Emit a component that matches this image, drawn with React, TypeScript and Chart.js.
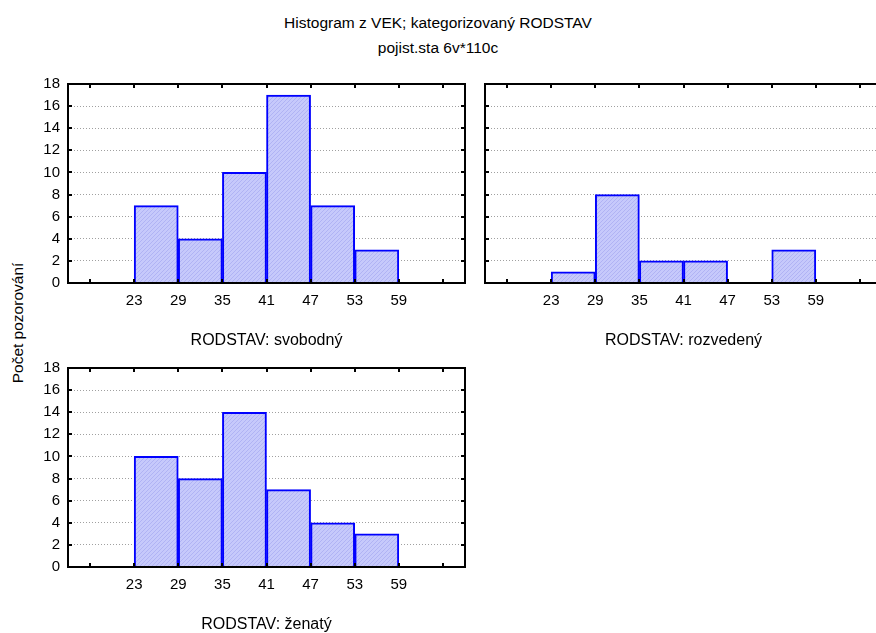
import React, { useEffect, useRef } from 'react';
import { Chart, registerables } from 'chart.js';

Chart.register(...registerables);

// ---- data ----
const binStarts = [17, 23, 29, 35, 41, 47, 53, 59];
const binWidth = 6;
const tickValues = [17, 23, 29, 35, 41, 47, 53, 59, 65];
const labeledTicks = [23, 29, 35, 41, 47, 53, 59];
const countsSvobodny = [0, 7, 4, 10, 17, 7, 3, 0];
const countsRozvedeny = [0, 1, 8, 2, 2, 0, 3, 0];
const countsZenaty = [0, 10, 8, 14, 7, 4, 3, 0];
const panelLabels = ['RODSTAV: svobodný', 'RODSTAV: rozvedený', 'RODSTAV: ženatý'];
const titleLines = ['Histogram z VEK; kategorizovaný RODSTAV', 'pojist.sta 6v*110c'];
const yAxisTitle = 'Počet pozorování';
const xMin = 14;
const xMax = 68;
const yMin = 0;
const yMax = 18;
const yStep = 2;

const FONT = '"Liberation Sans", Arial, Helvetica, sans-serif';
const TICK_FS = 15;
const LABEL_FS = 16;

function makeHatch(): CanvasPattern | string {
  const c = document.createElement('canvas');
  c.width = 4;
  c.height = 4;
  const g = c.getContext('2d');
  if (!g) return '#c4c6fb';
  g.fillStyle = '#c6c9fb';
  g.fillRect(0, 0, 4, 4);
  g.fillStyle = '#b0b3f4';
  for (let i = 0; i < 4; i++) g.fillRect(i, 3 - i, 1, 1);
  return g.createPattern(c, 'repeat') || '#c4c6fb';
}

const framePlugin = {
  id: 'frame',
  afterDraw(chart: any) {
    const { ctx, chartArea } = chart;
    const { left, right, top, bottom } = chartArea;
    const xs = chart.scales.x;
    const ys = chart.scales.y;
    ctx.save();
    ctx.strokeStyle = '#000';
    ctx.lineWidth = 2;
    ctx.beginPath();
    tickValues.forEach((v) => {
      const px = Math.round(xs.getPixelForValue(v));
      ctx.moveTo(px, top);
      ctx.lineTo(px, top + 4);
      ctx.moveTo(px, bottom);
      ctx.lineTo(px, bottom - 4);
    });
    for (let v = yMin + yStep; v < yMax; v += yStep) {
      const py = Math.round(ys.getPixelForValue(v));
      ctx.moveTo(left, py);
      ctx.lineTo(left + 4, py);
      ctx.moveTo(right, py);
      ctx.lineTo(right - 4, py);
    }
    ctx.stroke();
    ctx.strokeRect(left, top, right - left, bottom - top);
    ctx.restore();
  },
};

type PanelProps = {
  left: number;
  top: number;
  counts: number[];
  label: string;
  showY: boolean;
};

const CW = 480;
const CH = 288;

function Panel({ left, top, counts, label, showY }: PanelProps) {
  const ref = useRef<HTMLCanvasElement>(null);
  useEffect(() => {
    if (!ref.current) return;
    const chart = new Chart(ref.current, {
      type: 'bar',
      data: {
        datasets: [
          {
            data: binStarts.map((s, i) => ({ x: s + binWidth / 2, y: counts[i] })),
            backgroundColor: makeHatch() as any,
            borderColor: '#0000ff',
            borderWidth: 2,
            borderSkipped: 'start',
            barPercentage: 1,
            categoryPercentage: 1,
          } as any,
        ],
      },
      options: {
        animation: false,
        responsive: false,
        maintainAspectRatio: false,
        layout: { padding: { top: 22, right: 15, left: 0, bottom: 0 } },
        plugins: {
          legend: { display: false },
          tooltip: { enabled: false },
          title: { display: false },
        },
        scales: {
          x: {
            type: 'linear',
            min: xMin,
            max: xMax,
            offset: false,
            grid: { display: false, drawTicks: false },
            border: { display: false },
            afterBuildTicks: (s: any) => {
              s.ticks = tickValues.map((v) => ({ value: v }));
            },
            afterFit: (s: any) => {
              s.height = 67;
            },
            ticks: {
              autoSkip: false,
              maxRotation: 0,
              padding: 9,
              color: '#000',
              font: { family: FONT, size: TICK_FS },
              callback: (v: any) => (labeledTicks.includes(Number(v)) ? String(v) : ''),
            },
            title: {
              display: true,
              text: label,
              color: '#000',
              font: { family: FONT, size: LABEL_FS },
              padding: { top: 0, bottom: 0 },
            },
          },
          y: {
            min: yMin,
            max: yMax,
            grid: { color: '#a0a0a0', lineWidth: 1, drawTicks: false },
            border: { display: false, dash: [1, 2] },
            afterFit: (s: any) => {
              s.width = 68;
            },
            ticks: {
              display: showY,
              stepSize: yStep,
              padding: 8,
              color: '#000',
              font: { family: FONT, size: TICK_FS },
            },
          },
        },
      } as any,
      plugins: [framePlugin],
    });
    return () => chart.destroy();
  }, [counts, label, showY]);
  return (
    <canvas
      ref={ref}
      width={CW}
      height={CH}
      style={{ position: 'absolute', left, top, width: CW, height: CH }}
    />
  );
}

export default function App() {
  return (
    <div
      style={{
        position: 'fixed',
        left: 0,
        top: 0,
        width: 876,
        height: 633,
        overflow: 'hidden',
        background: '#fff',
        fontFamily: FONT,
        color: '#000',
      }}
    >
      {titleLines.map((t, i) => (
        <div
          key={i}
          style={{
            position: 'absolute',
            left: 0,
            top: 13 + i * 25,
            width: 876,
            height: 20,
            lineHeight: '20px',
            fontSize: 15.5,
            textAlign: 'center',
            whiteSpace: 'nowrap',
          }}
        >
          {t}
        </div>
      ))}
      <div
        style={{
          position: 'absolute',
          left: 18 - 100,
          top: 323 - 10,
          width: 200,
          height: 20,
          lineHeight: '20px',
          fontSize: 15.5,
          textAlign: 'center',
          transform: 'rotate(-90deg)',
          whiteSpace: 'nowrap',
        }}
      >
        {yAxisTitle}
      </div>
      <Panel left={0} top={62} counts={countsSvobodny} label={panelLabels[0]} showY={true} />
      <Panel left={417} top={62} counts={countsRozvedeny} label={panelLabels[1]} showY={false} />
      <Panel left={0} top={346} counts={countsZenaty} label={panelLabels[2]} showY={true} />
    </div>
  );
}
